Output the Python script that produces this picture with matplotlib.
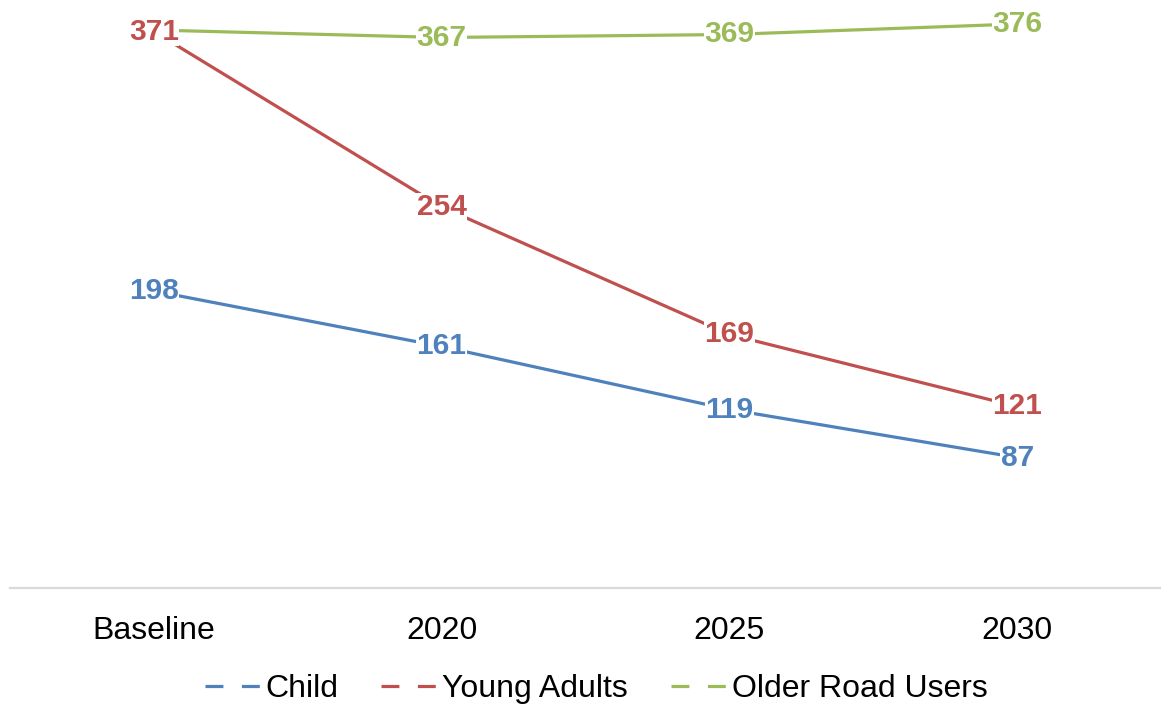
import matplotlib.pyplot as plt
from matplotlib.lines import Line2D

plt.rcParams['font.family'] = ['Liberation Sans', 'DejaVu Sans']

categories = ["Baseline", "2020", "2025", "2030"]
child = [198, 161, 119, 87]
young_adults = [371, 254, 169, 121]
older_users = [372, 367, 369, 376]
older_labels = [None, 367, 369, 376]

series = [
    ("Child", child, "#4F81BD", child),
    ("Young Adults", young_adults, "#C0504D", young_adults),
    ("Older Road Users", older_users, "#9BBB59", older_labels),
]


def main():
    fig = plt.figure(figsize=(11.61, 7.08), dpi=100)
    ax = fig.add_axes([10 / 1161, 120 / 708, 1151 / 1161, 600 / 708])
    x = list(range(len(categories)))

    handles = []
    for name, vals, color, labels in series:
        ax.plot(x, vals, color=color, lw=2.3, zorder=2, clip_on=False)
        for xi, v in zip(x, labels):
            if v is None:
                continue
            ax.text(xi, v, str(v), color=color, fontsize=21.5, fontweight="bold",
                    ha="center", va="center", zorder=3,
                    bbox=dict(facecolor="white", edgecolor="none", pad=0.3))
        handles.append(Line2D([], [], color=color, lw=2.3, dashes=(5.6, 5.8)))

    ax.set_xlim(-0.5, len(categories) - 0.5)
    ax.set_ylim(0, 400)
    ax.set_xticks(x)
    ax.set_xticklabels(categories, fontsize=23)
    ax.tick_params(axis="x", length=0, pad=20)
    ax.set_yticks([])
    for s in ["top", "right", "left"]:
        ax.spines[s].set_visible(False)
    ax.spines["bottom"].set_color("#D9D9D9")
    ax.spines["bottom"].set_linewidth(1.6)

    fig.legend(handles, [s[0] for s in series], loc="center",
               bbox_to_anchor=(596 / 1161, 1 - 689 / 708), ncol=3,
               frameon=False, fontsize=23, handlelength=1.75,
               handletextpad=0.15, columnspacing=1.35)

    fig.savefig("out.png", dpi=100)


if __name__ == "__main__":
    main()
